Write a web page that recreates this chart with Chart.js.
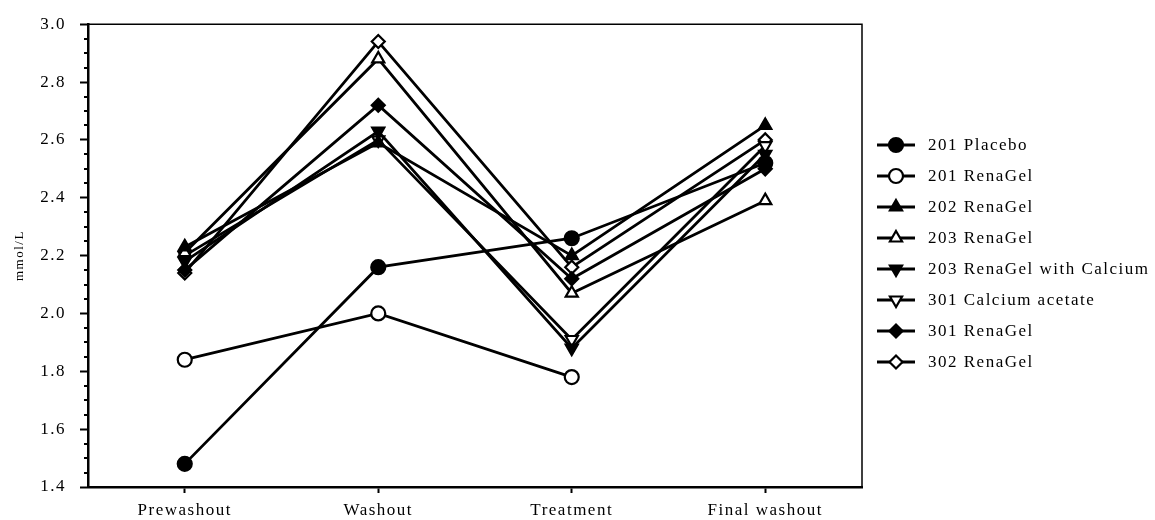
<!DOCTYPE html>
<html>
<head>
<meta charset="utf-8">
<title>Serum calcium by study phase</title>
<script src="https://cdn.jsdelivr.net/npm/chart.js@4/dist/chart.umd.min.js"></script>
<style>
  html, body { margin: 0; padding: 0; background: #fff; }
  #wrap { width: 1155px; height: 520px; }
</style>
</head>
<body>
<div id="wrap"><canvas id="c" width="1155" height="520"></canvas></div>
<script>
// Study phases along the x axis
const categories = ['Prewashout', 'Washout', 'Treatment', 'Final washout'];

// Serum calcium (mmol/L) per subject / treatment
const placebo201   = [1.48, 2.16, 2.26, 2.52];
const renagel201   = [1.84, 2.00, 1.78, null];
const renagel202   = [2.23, 2.59, 2.20, 2.65];
const renagel203   = [2.21, 2.88, 2.07, 2.39];
const renagelCa203 = [2.18, 2.63, 1.88, 2.55];
const caAcetate301 = [2.20, 2.60, 1.91, 2.58];
const renagel301   = [2.15, 2.72, 2.12, 2.50];
const renagel302   = [2.14, 2.94, 2.16, 2.60];

// Y axis tick labels
const yTickLabels = ['1.4', '1.6', '1.8', '2.0', '2.2', '2.4', '2.6', '2.8', '3.0'];

const SERIF = '"Liberation Serif", "Times New Roman", serif';
const SPACING = '1.5px';

function series(label, data, style, filled, rotation) {
  return {
    label: label,
    data: data,
    borderColor: '#000',
    borderWidth: 2.8,
    tension: 0,
    fill: false,
    pointStyle: style,
    pointRotation: rotation || 0,
    pointRadius: style === 'rectRot' ? 6.5 : 7,
    pointHoverRadius: 7,
    pointBorderWidth: 2.2,
    pointBorderColor: '#000',
    pointBackgroundColor: filled ? '#000' : '#fff',
    spanGaps: false
  };
}

const datasets = [
  series('201 Placebo', placebo201, 'circle', true),
  series('201 RenaGel', renagel201, 'circle', false),
  series('202 RenaGel', renagel202, 'triangle', true),
  series('203 RenaGel', renagel203, 'triangle', false),
  series('203 RenaGel with Calcium', renagelCa203, 'triangle', true, 180),
  series('301 Calcium acetate', caAcetate301, 'triangle', false, 180),
  series('301 RenaGel', renagel301, 'rectRot', true),
  series('302 RenaGel', renagel302, 'rectRot', false)
];

// Wider letter spacing for all canvas text
const spacingPlugin = {
  id: 'spacing',
  beforeLayout(chart) { chart.ctx.letterSpacing = SPACING; },
  beforeDraw(chart) { chart.ctx.letterSpacing = SPACING; }
};

// Closing frame on top/right plus minor ticks on the y axis
const framePlugin = {
  id: 'frame',
  afterDraw(chart) {
    const ctx = chart.ctx;
    const a = chart.chartArea;
    const y = chart.scales.y;
    ctx.save();
    ctx.strokeStyle = '#000';
    ctx.lineWidth = 1.5;
    ctx.beginPath();
    ctx.moveTo(a.left, a.top);
    ctx.lineTo(a.right, a.top);
    ctx.lineTo(a.right, a.bottom);
    ctx.stroke();
    ctx.lineWidth = 2;
    for (let i = 1; i < 32; i++) {
      if (i % 4 === 0) continue;
      const v = y.min + i * 0.05;
      const py = Math.round(y.getPixelForValue(v));
      ctx.beginPath();
      ctx.moveTo(a.left - 4, py);
      ctx.lineTo(a.left, py);
      ctx.stroke();
    }
    ctx.restore();
  }
};

// Legend with a line segment and marker per series
const lineLegendPlugin = {
  id: 'lineLegend',
  afterDraw(chart) {
    const ctx = chart.ctx;
    const a = chart.chartArea;
    const x0 = a.right + 15, x1 = a.right + 53, xm = a.right + 34, xt = a.right + 66;
    const top = 145, step = 31;
    ctx.save();
    ctx.letterSpacing = SPACING;
    chart.data.datasets.forEach((ds, i) => {
      const yy = top + i * step;
      ctx.strokeStyle = '#000';
      ctx.lineWidth = 2.8;
      ctx.beginPath();
      ctx.moveTo(x0, yy);
      ctx.lineTo(x1, yy);
      ctx.stroke();
      ctx.fillStyle = ds.pointBackgroundColor;
      ctx.strokeStyle = '#000';
      ctx.lineWidth = 2.2;
      Chart.helpers.drawPoint(ctx, {
        pointStyle: ds.pointStyle,
        rotation: ds.pointRotation,
        radius: ds.pointRadius,
        borderWidth: 2.2
      }, xm, yy);
      ctx.fillStyle = '#000';
      ctx.font = '17px ' + SERIF;
      ctx.textAlign = 'left';
      ctx.textBaseline = 'middle';
      ctx.fillText(ds.label, xt, yy + 1);
    });
    ctx.restore();
  }
};

new Chart(document.getElementById('c'), {
  type: 'line',
  data: { labels: categories, datasets: datasets },
  plugins: [spacingPlugin, framePlugin, lineLegendPlugin],
  options: {
    responsive: false,
    animation: false,
    events: [],
    layout: { padding: { top: 16, right: 293, left: 0, bottom: 0 } },
    plugins: { legend: { display: false }, tooltip: { enabled: false } },
    scales: {
      x: {
        type: 'category',
        offset: true,
        grid: { display: true, drawOnChartArea: false, drawTicks: true, tickLength: 6, tickWidth: 2, tickColor: '#000', offset: false },
        border: { display: true, color: '#000', width: 2.5 },
        ticks: { color: '#000', font: { family: SERIF, size: 17 }, padding: 7, maxRotation: 0 },
        afterFit(s) { s.height = 33; }
      },
      y: {
        min: 1.4,
        max: 3.0,
        grid: { display: true, drawOnChartArea: false, drawTicks: true, tickLength: 8, tickWidth: 2, tickColor: '#000' },
        border: { display: true, color: '#000', width: 2.5 },
        ticks: {
          stepSize: 0.2,
          color: '#000',
          font: { family: SERIF, size: 17 },
          padding: 14,
          callback: (v, i) => yTickLabels[i] !== undefined ? yTickLabels[i] : ''
        },
        title: { display: true, text: 'mmol/L', color: '#000', font: { family: SERIF, size: 13 }, padding: { top: 12, bottom: 0 } },
        afterFit(s) { s.width = 88; }
      }
    }
  }
});
</script>
</body>
</html>
